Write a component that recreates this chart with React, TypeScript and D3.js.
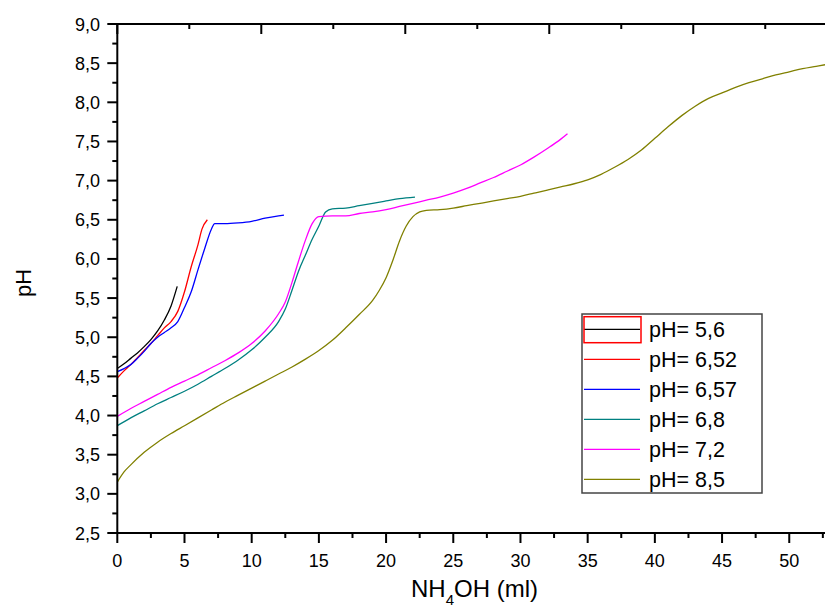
import React from "react";
import * as d3 from "d3";

const seriesNames = ["pH= 5,6", "pH= 6,52", "pH= 6,57", "pH= 6,8", "pH= 7,2", "pH= 8,5"];
const seriesColors = ["#000000", "#ff0000", "#0000ff", "#008080", "#ff00ff", "#808000"];

const blackData: [number, number][] = [[0,4.6],[0.5,4.66],[1,4.73],[1.5,4.8],[2,4.88],[2.5,4.97],[3,5.08],[3.5,5.22],[4,5.4],[4.46,5.65]];
const redData: [number, number][] = [[0,4.48],[0.5,4.57],[1,4.65],[1.5,4.74],[2,4.83],[2.5,4.92],[3,5.02],[3.5,5.12],[4,5.2],[4.5,5.33],[5,5.58],[5.5,5.9],[6,6.18],[6.3,6.38],[6.7,6.5]];
const blueData: [number, number][] = [[0,4.56],[0.5,4.6],[1,4.65],[1.5,4.73],[2,4.82],[2.5,4.92],[3,5.0],[3.5,5.06],[4,5.12],[4.5,5.2],[5,5.38],[5.5,5.58],[6,5.86],[6.5,6.13],[7,6.38],[7.25,6.45],[8,6.45],[9,6.46],[10,6.48],[11,6.52],[12,6.55],[12.4,6.56]];
const tealData: [number, number][] = [[0,3.87],[1,3.97],[2,4.06],[3,4.15],[4,4.23],[5,4.31],[6,4.4],[7,4.5],[8,4.6],[9,4.71],[10,4.84],[11,5.0],[12,5.2],[12.5,5.36],[13,5.6],[13.5,5.85],[14,6.05],[14.5,6.25],[15,6.42],[15.5,6.6],[16,6.64],[17,6.65],[18,6.68],[19,6.71],[20,6.74],[21,6.77],[22.15,6.79]];
const magentaData: [number, number][] = [[0,3.99],[1,4.09],[2,4.18],[3,4.27],[4,4.36],[5,4.44],[6,4.52],[7,4.61],[8,4.7],[9,4.8],[10,4.92],[11,5.08],[12,5.3],[12.5,5.45],[13,5.7],[13.5,5.98],[14,6.24],[14.5,6.45],[15,6.54],[16,6.55],[17,6.55],[18,6.58],[19,6.6],[20,6.63],[21,6.67],[22,6.71],[23,6.75],[24,6.79],[25,6.84],[26,6.9],[27,6.97],[28,7.04],[29,7.12],[30,7.2],[31,7.3],[32,7.41],[33,7.53],[33.5,7.6]];
const oliveData: [number, number][] = [[0,3.15],[0.5,3.28],[1,3.37],[2,3.53],[3,3.66],[4,3.77],[5,3.87],[6,3.97],[7,4.07],[8,4.17],[9,4.26],[10,4.35],[11,4.44],[12,4.53],[13,4.62],[14,4.72],[15,4.83],[16,4.96],[17,5.12],[18,5.29],[19,5.47],[19.5,5.6],[20,5.76],[20.5,5.98],[21,6.23],[21.5,6.42],[22,6.54],[22.5,6.6],[23,6.62],[24,6.63],[25,6.65],[26,6.68],[27,6.71],[28,6.74],[29,6.77],[30,6.8],[31,6.84],[32,6.88],[33,6.92],[34,6.96],[35,7.01],[36,7.08],[37,7.17],[38,7.27],[39,7.39],[40,7.54],[41,7.69],[42,7.83],[43,7.95],[44,8.05],[45,8.12],[46,8.19],[47,8.25],[48,8.3],[49,8.35],[50,8.39],[51,8.43],[52,8.46],[52.66,8.48]];

const allSeries = [blackData, redData, blueData, tealData, magentaData, oliveData];

const xMajorTicks = [0, 5, 10, 15, 20, 25, 30, 35, 40, 45, 50];
const yMajorTicks = [2.5, 3.0, 3.5, 4.0, 4.5, 5.0, 5.5, 6.0, 6.5, 7.0, 7.5, 8.0, 8.5, 9.0];

const W = 825, H = 612;
const X0 = 117.3, X1 = 825, Y0 = 533, Y1 = 24;
const FONT = "Arial, 'Liberation Sans', sans-serif";

export default function App() {
  const x = d3.scaleLinear().domain([0, 52.66]).range([X0, X1]);
  const y = d3.scaleLinear().domain([2.5, 9]).range([Y0, Y1]);
  const topX = d3.scaleLinear().domain([0, 4.915]).range([X0, X1]);

  const line = d3.line<[number, number]>().x(d => x(d[0])).y(d => y(d[1])).curve(d3.curveMonotoneX);

  const xMinor = d3.range(2.5, 53, 5);
  const yMinor = d3.range(2.75, 9, 0.5);
  const topTicks = d3.range(0, 4.92, 0.5);
  const fmtY = (v: number) => d3.format(".1f")(v).replace(".", ",");

  const legX = 582, legY = 314, legW = 180, legH = 179;
  const rowY = (i: number) => 329.3 + i * 30;

  return (
    <svg width={W} height={H} style={{ position: "absolute", left: 0, top: 0, background: "#fff" }} fontFamily={FONT}>
      <rect x={0} y={0} width={W} height={H} fill="#fff" />
      <defs>
        <clipPath id="plotClip">
          <rect x={X0} y={Y1} width={X1 - X0} height={Y0 - Y1} />
        </clipPath>
      </defs>
      <g clipPath="url(#plotClip)">
        {allSeries.map((s, i) => (
          <path key={i} d={line(s) || ""} fill="none" stroke={seriesColors[i]} strokeWidth={1.3} />
        ))}
      </g>

      {/* bottom axis */}
      <line x1={X0 - 1} x2={X1} y1={Y0} y2={Y0} stroke="#000" strokeWidth={2} />
      {xMajorTicks.map(t => (
        <g key={"xm" + t}>
          <line x1={x(t)} x2={x(t)} y1={Y0} y2={Y0 + 10} stroke="#000" strokeWidth={2} />
          <text x={x(t)} y={567} textAnchor="middle" fontSize={18} fill="#000">{t}</text>
        </g>
      ))}
      {xMinor.map(t => (
        <line key={"xn" + t} x1={x(t)} x2={x(t)} y1={Y0} y2={Y0 + 5} stroke="#000" strokeWidth={2} />
      ))}

      {/* top axis */}
      <line x1={X0 - 1} x2={X1} y1={Y1} y2={Y1} stroke="#000" strokeWidth={2} />
      {topTicks.map((t, i) => (
        <line key={"tt" + i} x1={topX(t)} x2={topX(t)} y1={Y1} y2={Y1 + (i % 2 === 0 ? 10 : 5)} stroke="#000" strokeWidth={2} />
      ))}

      {/* left axis */}
      <line x1={X0} x2={X0} y1={Y1 - 1} y2={Y0 + 1} stroke="#000" strokeWidth={2} />
      {yMajorTicks.map(t => (
        <g key={"ym" + t}>
          <line x1={X0 - 10} x2={X0} y1={y(t)} y2={y(t)} stroke="#000" strokeWidth={2} />
          <text x={100} y={y(t) + 6.5} textAnchor="end" fontSize={18} fill="#000">{fmtY(t)}</text>
        </g>
      ))}
      {yMinor.map(t => (
        <line key={"yn" + t} x1={X0 - 5} x2={X0} y1={y(t)} y2={y(t)} stroke="#000" strokeWidth={2} />
      ))}

      {/* axis titles */}
      <text transform="translate(31,283) rotate(-90)" textAnchor="middle" fontSize={22} fill="#000">pH</text>
      <text x={411} y={597} fontSize={24} fill="#000">
        NH<tspan fontSize={15} dy={8}>4</tspan><tspan dy={-8}>OH (ml)</tspan>
      </text>

      {/* legend */}
      <rect x={legX} y={legY} width={legW} height={legH} fill="#fff" stroke="#444" strokeWidth={1.5} />
      {seriesNames.map((n, i) => (
        <g key={"lg" + i}>
          <line x1={584} x2={640} y1={rowY(i)} y2={rowY(i)} stroke={seriesColors[i]} strokeWidth={1.3} />
          <text x={649} y={rowY(i) + 7.5} fontSize={21.5} fill="#000">{n}</text>
        </g>
      ))}
      <rect x={584} y={316.7} width={57} height={26} fill="none" stroke="#ff0000" strokeWidth={1.5} />
    </svg>
  );
}
